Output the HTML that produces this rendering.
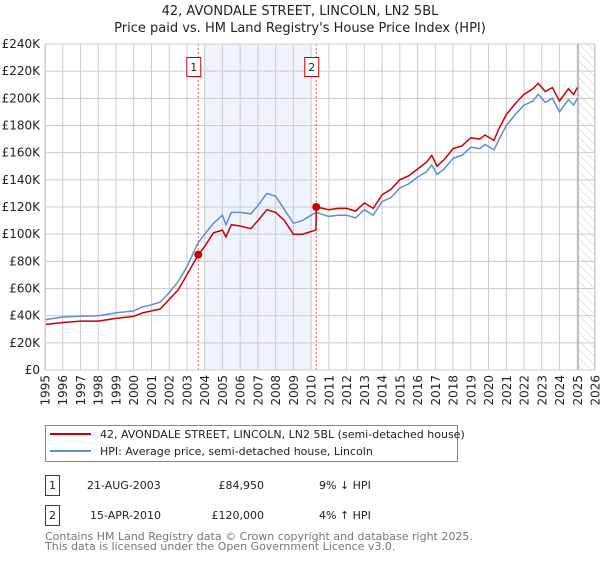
<!DOCTYPE html>
<html><head><meta charset="utf-8"><style>
body{margin:0;background:#fff;width:600px;height:560px;overflow:hidden;font-family:"DejaVu Sans","Liberation Sans",sans-serif;}
svg text{font-family:"DejaVu Sans","Liberation Sans",sans-serif;}
</style></head><body>
<svg id="chart" width="600" height="560" xmlns="http://www.w3.org/2000/svg">
<defs><pattern id="hatch" width="6" height="6" patternUnits="userSpaceOnUse" patternTransform="rotate(-45)"><line x1="0" y1="0" x2="0" y2="6" stroke="#ccc" stroke-width="1"/></pattern></defs>
<text x="300" y="15" text-anchor="middle" font-size="13" fill="#222">42, AVONDALE STREET, LINCOLN, LN2 5BL</text>
<text x="300" y="32" text-anchor="middle" font-size="13" fill="#222">Price paid vs. HM Land Registry's House Price Index (HPI)</text>
<g id="grid"></g><g id="series"></g><g id="axes"></g>
<g>
<rect x="45.5" y="425.5" width="412" height="36" fill="#fff" stroke="#888"/>
<line x1="50" y1="434" x2="91" y2="434" stroke="#cc0000" stroke-width="2"/>
<text x="100" y="438" font-size="11" fill="#222">42, AVONDALE STREET, LINCOLN, LN2 5BL (semi-detached house)</text>
<line x1="50" y1="451" x2="91" y2="451" stroke="#5b8fd0" stroke-width="2"/>
<text x="100" y="455" font-size="11" fill="#222">HPI: Average price, semi-detached house, Lincoln</text>
</g>
<g font-size="11" fill="#222">
<rect x="45.5" y="475.5" width="14" height="20" fill="#fff" stroke="#cc0000"/><text x="52.5" y="489" text-anchor="middle">1</text>
<text x="87" y="489">21-AUG-2003</text><text x="264" y="489" text-anchor="end">£84,950</text><text x="319" y="489">9% ↓ HPI</text>
<rect x="45.5" y="505.5" width="14" height="20" fill="#fff" stroke="#cc0000"/><text x="52.5" y="519" text-anchor="middle">2</text>
<text x="90" y="519">15-APR-2010</text><text x="264" y="519" text-anchor="end">£120,000</text><text x="319" y="519">4% ↑ HPI</text>
</g>
<text x="45" y="540" font-size="11" fill="#777">Contains HM Land Registry data © Crown copyright and database right 2025.</text>
<text x="45" y="550" font-size="11" fill="#777">This data is licensed under the Open Government Licence v3.0.</text>
</svg>
<script>
const hpiYears=[1995,1996,1997,1998,1999,2000,2000.5,2001,2001.5,2002,2002.5,2003,2003.6,2004,2004.5,2005,2005.2,2005.5,2006,2006.6,2007,2007.5,2008,2008.5,2009,2009.5,2010,2010.3,2011,2011.5,2012,2012.5,2013,2013.5,2014,2014.5,2015,2015.5,2016,2016.5,2016.8,2017.1,2017.5,2018,2018.5,2019,2019.5,2019.8,2020.3,2020.6,2021,2021.5,2022,2022.5,2022.8,2023.2,2023.6,2024,2024.5,2024.8,2025];
const hpiValues=[37,39,39.5,40,42,43.5,46.5,48,50,57,65,76,93,100,108,114,107,116,116,115,121,130,128,118,108,110,114,116,113,114,114,112,118,114,124,127,134,137,142,146,151,144,148,156,158,164,163,166,162,170,180,188,195,198,203,197,200,190,199,195,200];
const priceYears=[1995,1996,1997,1998,1999,2000,2000.5,2001,2001.5,2002,2002.5,2003,2003.64,2004,2004.5,2005,2005.2,2005.5,2006,2006.6,2007,2007.5,2008,2008.5,2009,2009.5,2010,2010.27,2010.29,2011,2011.5,2012,2012.5,2013,2013.5,2014,2014.5,2015,2015.5,2016,2016.5,2016.8,2017.1,2017.5,2018,2018.5,2019,2019.5,2019.8,2020.3,2020.6,2021,2021.5,2022,2022.5,2022.8,2023.2,2023.6,2024,2024.5,2024.8,2025];
const priceValues=[33.5,35,36,36,38,39.5,42,43.5,45,52,59,70,84.95,91,101,103,98,107,106,104,110,118,116,110,100,100,102,103,120,118,119,119,117,123,119,129,133,140,143,148,153,158,150,155,163,165,171,170,173,169,178,188,196,203,207,211,205,208,198,207,203,208];
const sales=[{n:"1",year:2003.64,value:84.95},{n:"2",year:2010.29,value:120}];
const yTicks=[0,20,40,60,80,100,120,140,160,180,200,220,240];
const xTicks=[1995,1996,1997,1998,1999,2000,2001,2002,2003,2004,2005,2006,2007,2008,2009,2010,2011,2012,2013,2014,2015,2016,2017,2018,2019,2020,2021,2022,2023,2024,2025,2026];
const X0=45,X1=595,Y0=370,Y1=44;
const xs=y=>X0+(y-1995)/(2026-1995)*(X1-X0);
const ys=v=>Y0-v/240*(Y0-Y1);
const NS="http://www.w3.org/2000/svg";
function mk(tag,attrs,parent){const e=document.createElementNS(NS,tag);for(const k in attrs)e.setAttribute(k,attrs[k]);parent.appendChild(e);return e;}
const grid=document.getElementById('grid'),series=document.getElementById('series'),axes=document.getElementById('axes');
let r=mk('rect',{x:xs(2003.98),y:Y1,width:xs(2010.03)-xs(2003.98),height:Y0-Y1,fill:'#eef3fc'},grid);


let h=mk('rect',{x:xs(2025.05),y:Y1,width:X1-xs(2025.05),height:Y0-Y1,fill:'url(#hatch)'},grid);


yTicks.forEach(v=>{mk('line',{x1:X0,x2:X1,y1:ys(v),y2:ys(v),stroke:'#ccc'},grid);
 const t=mk('text',{x:40,y:ys(v)+4,'text-anchor':'end','font-size':12,fill:'#222'},axes);t.textContent=v===0?'£0':'£'+v+'K';
 
 });
xTicks.forEach(y=>{mk('line',{x1:xs(y),x2:xs(y),y1:Y1,y2:Y0,stroke:'#ccc'},grid);
 const tx=xs(y)+4.5,ty=375;
 const t=mk('text',{x:tx,y:ty,'text-anchor':'end','font-size':12,fill:'#222',transform:'rotate(-90 '+tx+' '+ty+')'},axes);t.textContent=y;
 
 });
mk('line',{x1:xs(2025.05),x2:xs(2025.05),y1:Y1,y2:Y0,stroke:'#999'},grid);
sales.forEach(s=>{mk('line',{x1:xs(s.year),x2:xs(s.year),y1:Y1,y2:Y0,stroke:'#e06060','stroke-dasharray':'2,2'},grid);});
const pts=(a,b)=>a.map((y,i)=>xs(y).toFixed(1)+','+ys(b[i]).toFixed(1)).join(' ');
const l1=mk('polyline',{points:pts(hpiYears,hpiValues),fill:'none',stroke:'#5b8fd0','stroke-width':1.5},series);


const l2=mk('polyline',{points:pts(priceYears,priceValues),fill:'none',stroke:'#cc0000','stroke-width':1.5},series);


sales.forEach(s=>{const c=mk('circle',{cx:xs(s.year),cy:ys(s.value),r:4,fill:'#cc0000'},series);
 
 
 const b=mk('rect',{x:xs(s.year)-11.5,y:57.5,width:14,height:19,fill:'#fff',stroke:'#cc0000'},series);
 
 
 const t=mk('text',{x:xs(s.year)-4.5,y:71,'text-anchor':'middle','font-size':11,fill:'#222'},series);t.textContent=s.n;});
mk('rect',{x:X0+0.5,y:Y1,width:X1-X0-1,height:Y0-Y1,fill:'none',stroke:'#ccc'},axes);
</script>
</body></html>
